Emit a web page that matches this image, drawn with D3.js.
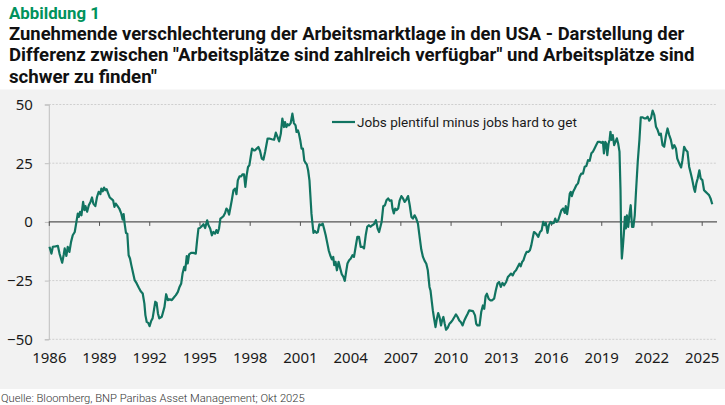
<!DOCTYPE html>
<html>
<head>
<meta charset="utf-8">
<script src="https://cdn.jsdelivr.net/npm/d3@7"></script>
<style>
  html, body { margin: 0; padding: 0; background: #fff; }
  svg { display: block; }
</style>
</head>
<body>
<div id="app"></div>
<script>
const width = 725
const height = 405
const margin = { top: 104.5, right: 8, bottom: 66, left: 49 }

// monthly-ish readings, decimal year
const dates = [
  1986.04, 1986.16, 1986.24, 1986.40, 1986.54, 1986.64, 1986.80, 1986.89, 1986.95, 1987.05,
  1987.13, 1987.23, 1987.33, 1987.43, 1987.55, 1987.65, 1987.73, 1987.79, 1987.87, 1987.95,
  1988.05, 1988.13, 1988.19, 1988.29, 1988.39, 1988.49, 1988.58, 1988.66, 1988.78, 1988.88,
  1988.98, 1989.08, 1989.14, 1989.22, 1989.30, 1989.38, 1989.46, 1989.54, 1989.64, 1989.74,
  1989.84, 1989.92, 1990.00, 1990.10, 1990.21, 1990.33, 1990.41, 1990.47, 1990.53, 1990.61,
  1990.69, 1990.77, 1990.85, 1990.93, 1991.03, 1991.13, 1991.25, 1991.37, 1991.49, 1991.61,
  1991.71, 1991.77, 1991.85, 1991.94, 1992.02, 1992.12, 1992.20, 1992.28, 1992.36, 1992.44,
  1992.52, 1992.60, 1992.75, 1992.91, 1993.01, 1993.11, 1993.23, 1993.35, 1993.47, 1993.59,
  1993.71, 1993.81, 1993.91, 1993.99, 1994.09, 1994.15, 1994.24, 1994.30, 1994.38, 1994.50,
  1994.64, 1994.78, 1994.86, 1994.94, 1995.02, 1995.14, 1995.24, 1995.34, 1995.46, 1995.54,
  1995.64, 1995.74, 1995.83, 1995.93, 1996.01, 1996.09, 1996.17, 1996.25, 1996.33, 1996.43,
  1996.53, 1996.61, 1996.69, 1996.77, 1996.85, 1996.93, 1997.03, 1997.13, 1997.21, 1997.29,
  1997.39, 1997.49, 1997.58, 1997.66, 1997.74, 1997.82, 1997.90, 1997.98, 1998.06, 1998.14,
  1998.24, 1998.32, 1998.42, 1998.52, 1998.62, 1998.72, 1998.82, 1998.92, 1999.07, 1999.17,
  1999.32, 1999.46, 1999.56, 1999.66, 1999.76, 1999.86, 1999.95, 2000.05, 2000.11, 2000.19,
  2000.27, 2000.35, 2000.45, 2000.55, 2000.64, 2000.74, 2000.80, 2000.88, 2000.94, 2001.02,
  2001.10, 2001.18, 2001.26, 2001.34, 2001.41, 2001.49, 2001.57, 2001.63, 2001.69, 2001.75,
  2001.81, 2001.89, 2001.99, 2002.07, 2002.16, 2002.26, 2002.36, 2002.44, 2002.54, 2002.62,
  2002.72, 2002.81, 2002.91, 2002.99, 2003.05, 2003.13, 2003.21, 2003.31, 2003.41, 2003.50,
  2003.60, 2003.68, 2003.76, 2003.84, 2003.94, 2004.04, 2004.14, 2004.23, 2004.33, 2004.43,
  2004.53, 2004.63, 2004.73, 2004.83, 2004.93, 2005.02, 2005.12, 2005.22, 2005.32, 2005.42,
  2005.54, 2005.64, 2005.73, 2005.88, 2005.98, 2006.08, 2006.17, 2006.27, 2006.37, 2006.47,
  2006.53, 2006.61, 2006.69, 2006.77, 2006.87, 2006.96, 2007.06, 2007.16, 2007.26, 2007.36,
  2007.46, 2007.56, 2007.66, 2007.75, 2007.85, 2007.95, 2008.05, 2008.15, 2008.25, 2008.35,
  2008.45, 2008.55, 2008.64, 2008.74, 2008.80, 2008.88, 2008.94, 2009.00, 2009.10, 2009.18,
  2009.26, 2009.34, 2009.43, 2009.49, 2009.57, 2009.65, 2009.73, 2009.83, 2009.93, 2010.03,
  2010.13, 2010.23, 2010.32, 2010.42, 2010.52, 2010.62, 2010.72, 2010.82, 2010.92, 2011.02,
  2011.11, 2011.34, 2011.46, 2011.53, 2011.61, 2011.73, 2011.83, 2011.93, 2012.01, 2012.09,
  2012.17, 2012.27, 2012.37, 2012.47, 2012.60, 2012.70, 2012.80, 2012.90, 2013.00, 2013.10,
  2013.20, 2013.32, 2013.42, 2013.51, 2013.61, 2013.71, 2013.81, 2013.91, 2014.01, 2014.11,
  2014.19, 2014.27, 2014.35, 2014.45, 2014.54, 2014.64, 2014.74, 2014.82, 2014.90, 2014.98,
  2015.06, 2015.14, 2015.24, 2015.34, 2015.44, 2015.53, 2015.61, 2015.69, 2015.79, 2015.87,
  2015.97, 2016.07, 2016.17, 2016.25, 2016.33, 2016.43, 2016.52, 2016.62, 2016.72, 2016.82,
  2016.88, 2016.96, 2017.04, 2017.12, 2017.18, 2017.24, 2017.32, 2017.42, 2017.51, 2017.61,
  2017.71, 2017.81, 2017.91, 2018.01, 2018.11, 2018.21, 2018.31, 2018.41, 2018.50, 2018.60,
  2018.70, 2018.80, 2018.90, 2019.00, 2019.10, 2019.16, 2019.24, 2019.30, 2019.36, 2019.44,
  2019.50, 2019.55, 2019.61, 2019.69, 2019.77, 2019.85, 2019.93, 2020.01, 2020.09, 2020.15,
  2020.19, 2020.23, 2020.29, 2020.35, 2020.41, 2020.47, 2020.53, 2020.61, 2020.69, 2020.76,
  2020.84, 2020.92, 2021.00, 2021.08, 2021.18, 2021.28, 2021.36, 2021.48, 2021.57, 2021.67,
  2021.77, 2021.87, 2021.97, 2022.07, 2022.17, 2022.27, 2022.37, 2022.47, 2022.56, 2022.66,
  2022.76, 2022.86, 2022.96, 2023.06, 2023.16, 2023.26, 2023.36, 2023.46, 2023.54, 2023.62,
  2023.70, 2023.77, 2023.85, 2023.95, 2024.05, 2024.15, 2024.25, 2024.35, 2024.44, 2024.54,
  2024.60, 2024.68, 2024.76, 2024.86, 2024.94, 2025.04, 2025.14, 2025.24, 2025.34, 2025.44,
  2025.53, 2025.63
]

const values = [
  -10.6, -13.5, -10.6, -10.4, -10.2, -13.5, -17.4, -14.0, -11.3, -14.5,
  -10.6, -12.8, -8.5, -5.7, -4.3, 0.0, 3.5, 2.1, 4.3, 2.8,
  8.5, 5.0, 6.7, 4.3, 7.1, 8.5, 10.4, 7.8, 6.7, 10.6,
  12.8, 11.8, 14.2, 13.0, 14.6, 13.5, 13.9, 12.3, 10.4, 9.8,
  9.2, 6.4, 7.8, 6.8, 5.7, 3.5, 1.0, 3.3, -0.7, -4.7,
  -5.0, -14.2, -15.6, -18.4, -21.7, -24.8, -26.2, -27.9, -29.5, -30.5,
  -34.8, -39.7, -42.6, -43.0, -44.4, -42.1, -41.1, -37.6, -34.0, -34.5,
  -39.0, -41.1, -40.4, -36.2, -30.8, -33.3, -33.0, -33.3, -32.2, -31.2,
  -29.8, -27.7, -26.2, -22.0, -19.1, -20.6, -14.6, -17.7, -13.8, -13.2,
  -13.2, -13.5, -7.8, -2.8, -2.6, -1.8, -1.0, -2.6, 0.7, -1.4,
  -2.8, -5.7, -4.3, -5.0, -3.5, -4.7, -2.8, 1.4, 1.8, 2.4,
  3.8, 5.7, 5.0, 3.1, 6.1, 9.2, 13.5, 14.2, 11.8, 17.7,
  19.4, 19.4, 20.3, 20.3, 14.9, 19.9, 23.4, 24.1, 27.7, 31.2,
  30.5, 30.5, 31.2, 31.9, 30.2, 27.0, 26.5, 29.8, 35.5, 35.5,
  35.2, 35.0, 38.0, 36.2, 34.3, 37.6, 44.0, 40.4, 42.5, 40.4,
  41.6, 41.1, 42.1, 46.1, 42.1, 41.1, 38.3, 39.0, 37.6, 34.8,
  31.2, 31.2, 26.2, 25.1, 24.5, 22.0, 17.7, 10.6, 3.5, -0.7,
  -4.7, -3.8, -4.7, -4.3, -1.0, -1.4, -0.7, -2.8, -5.7, -8.5,
  -12.1, -14.2, -16.0, -14.9, -18.4, -17.0, -20.6, -17.0, -19.9, -22.3,
  -23.4, -25.1, -21.3, -17.7, -16.3, -15.6, -14.2, -14.9, -10.6, -6.4,
  -6.4, -10.6, -10.6, -11.3, -5.7, -2.1, -1.4, -2.1, -1.4, -1.0,
  0.7, -2.8, -4.3, 0.0, 6.7, 7.1, 9.2, 10.0, 9.0, 9.2,
  5.7, 3.6, 5.7, 5.0, 5.7, 9.2, 11.0, 10.0, 8.5, 9.5,
  11.0, 7.1, 2.1, 1.4, 2.8, 1.4, -0.7, -6.4, -11.8, -14.9,
  -16.6, -17.8, -20.6, -27.7, -29.2, -34.1, -37.7, -40.5, -44.8, -41.3,
  -38.8, -40.5, -44.1, -42.0, -40.5, -43.4, -45.9, -45.1, -43.4, -42.7,
  -41.7, -40.5, -39.4, -40.5, -42.0, -42.7, -44.1, -42.0, -40.5, -39.1,
  -37.7, -38.0, -39.8, -43.4, -44.1, -44.1, -38.4, -35.6, -37.0, -31.7,
  -30.6, -32.7, -33.4, -33.4, -32.7, -29.2, -26.3, -25.6, -27.7, -26.0,
  -27.0, -25.6, -23.5, -22.8, -22.0, -22.8, -21.3, -20.6, -19.2, -17.8,
  -18.9, -17.1, -16.4, -14.2, -12.8, -12.8, -12.1, -10.0, -7.1, -4.3,
  -4.7, -5.3, -6.4, -4.3, -3.6, 0.0, -1.4, -0.4, -4.7, -1.4,
  0.0, -0.7, -0.4, 1.4, 0.0, 0.7, 2.8, 5.0, 5.7, 3.8,
  6.7, 3.3, 7.1, 12.1, 12.8, 11.0, 12.8, 14.2, 15.6, 16.4,
  19.2, 20.6, 20.6, 23.5, 23.8, 26.3, 26.0, 29.2, 29.9, 31.3,
  32.7, 34.1, 34.1, 33.7, 34.1, 29.2, 34.1, 33.4, 28.4, 33.4,
  35.1, 38.4, 34.9, 37.0, 32.7, 34.1, 35.6, 33.4, 29.9, 13.5,
  -6.4, -15.6, -10.7, -5.0, 2.1, -2.8, 2.8, -2.1, 3.6, 7.1,
  -2.1, -2.1, 2.8, 13.5, 25.6, 34.9, 44.5, 44.5, 44.1, 44.1,
  44.8, 43.1, 44.1, 47.4, 45.5, 40.5, 39.1, 37.0, 37.6, 32.7,
  32.0, 36.6, 39.8, 37.0, 34.9, 31.3, 32.7, 31.3, 27.0, 25.6,
  24.2, 23.2, 26.3, 32.0, 30.6, 29.9, 23.5, 20.6, 17.8, 14.2,
  12.8, 16.4, 18.5, 22.0, 18.5, 17.8, 13.5, 12.8, 12.1, 11.4,
  10.0, 7.5
]

const yTicks = [-50, -25, 0, 25, 50]
const xTicks = [1986, 1989, 1992, 1995, 1998, 2001, 2004, 2007, 2010, 2013, 2016, 2019, 2022, 2025]

const seriesName = "Jobs plentiful minus jobs hard to get"
const kicker = "Abbildung 1"
const titleLines = [
  "Zunehmende verschlechterung der Arbeitsmarktlage in den USA - Darstellung der",
  "Differenz zwischen \"Arbeitsplätze sind zahlreich verfügbar\" und Arbeitsplätze sind",
  "schwer zu finden\""
]
const source = "Quelle: Bloomberg, BNP Paribas Asset Management; Okt 2025"

const data = dates.map((d, i) => ({ date: d, value: values[i] }))

const x = d3.scaleLinear()
    .domain([1986, 2025])
    .range([48.8, 701.7])
const y = d3.scaleLinear()
    .domain([-50, 50])
    .range([339.3, 104.5])
const plotRight = 717

const svg = d3.select("#app").append("svg")
    .attr("width", width)
    .attr("height", height)
    .attr("font-family", "Roboto, 'Noto Sans', sans-serif")

// grey chart panel
svg.append("rect")
    .attr("x", 0).attr("y", 89.5)
    .attr("width", width).attr("height", 299.5)
    .attr("fill", "#f2f2f2")

// fit a text element to a target width by scaling its font size
const fit = (sel, w) => {
    const len = sel.node().getComputedTextLength()
    const fs = parseFloat(sel.attr("font-size"))
    sel.attr("font-size", fs * w / len)
}

svg.append("text")
    .attr("x", 9).attr("y", 18.5)
    .attr("font-size", 17).attr("font-weight", 700)
    .attr("fill", "#00925c")
    .text(kicker)
    .call(fit, 91)

const titleWidths = [676, 686, 148]
titleLines.forEach((t, i) => {
    svg.append("text")
        .attr("x", 9).attr("y", 39.5 + i * 21.5)
        .attr("font-size", 16.5).attr("font-weight", 700)
        .attr("fill", "#111")
        .text(t)
        .call(fit, titleWidths[i])
})

// gridlines
svg.append("g")
    .selectAll("line")
    .data(yTicks.filter(d => d !== 0))
    .join("line")
    .attr("x1", x(1986)).attr("x2", plotRight)
    .attr("y1", d => y(d)).attr("y2", d => y(d))
    .attr("stroke", "#cfcfcf")
    .attr("stroke-dasharray", "2,1.5")
    .attr("stroke-width", 1)

// y axis
const yAxis = g => g
    .attr("transform", `translate(${x(1986)},0)`)
    .call(d3.axisLeft(y).tickValues(yTicks).tickSize(4).tickPadding(12))
    .call(g => g.select(".domain").attr("stroke", "#bfbfbf"))
    .call(g => g.selectAll(".tick line").attr("stroke", "#bfbfbf"))
    .call(g => g.selectAll("text")
        .attr("font-size", 15)
        .attr("fill", "#1a1a1a")
        .attr("font-family", "'Noto Sans', sans-serif"))

svg.append("g").call(yAxis)

// zero line with year ticks
const zeroAxis = g => g
    .attr("transform", `translate(0,${y(0)})`)
    .call(d3.axisBottom(x).tickValues(xTicks).tickSize(4).tickFormat(""))
    .call(g => g.select(".domain").remove())
    .call(g => g.selectAll(".tick line").attr("stroke", "#555"))

svg.append("g").call(zeroAxis)
svg.append("line")
    .attr("x1", x(1986)).attr("x2", plotRight)
    .attr("y1", y(0)).attr("y2", y(0))
    .attr("stroke", "#555").attr("stroke-width", 1.2)

// year labels along the bottom
const xAxis = g => g
    .attr("transform", `translate(0,${y(-50)})`)
    .call(d3.axisBottom(x).tickValues(xTicks).tickSize(0).tickPadding(13).tickFormat(d3.format("d")))
    .call(g => g.select(".domain").remove())
    .call(g => g.selectAll("text")
        .attr("font-size", 15)
        .attr("fill", "#1a1a1a")
        .attr("font-family", "'Noto Sans', sans-serif"))

svg.append("g").call(xAxis)

const line = d3.line()
    .x(d => x(d.date))
    .y(d => y(d.value))

svg.append("path")
    .datum(data)
    .attr("fill", "none")
    .attr("stroke", "#117461")
    .attr("stroke-width", 2.2)
    .attr("stroke-linejoin", "round")
    .attr("d", line)

// legend
svg.append("line")
    .attr("x1", 332).attr("x2", 355)
    .attr("y1", 122).attr("y2", 122)
    .attr("stroke", "#117461").attr("stroke-width", 2.2)
svg.append("text")
    .attr("x", 357).attr("y", 126.5)
    .attr("font-size", 13.5)
    .attr("fill", "#1a1a1a")
    .text(seriesName)
    .call(fit, 220)

svg.append("text")
    .attr("x", 1).attr("y", 401.5)
    .attr("font-size", 12).attr("font-weight", 300)
    .attr("fill", "#333")
    .text(source)
    .call(fit, 304)
</script>
</body>
</html>
